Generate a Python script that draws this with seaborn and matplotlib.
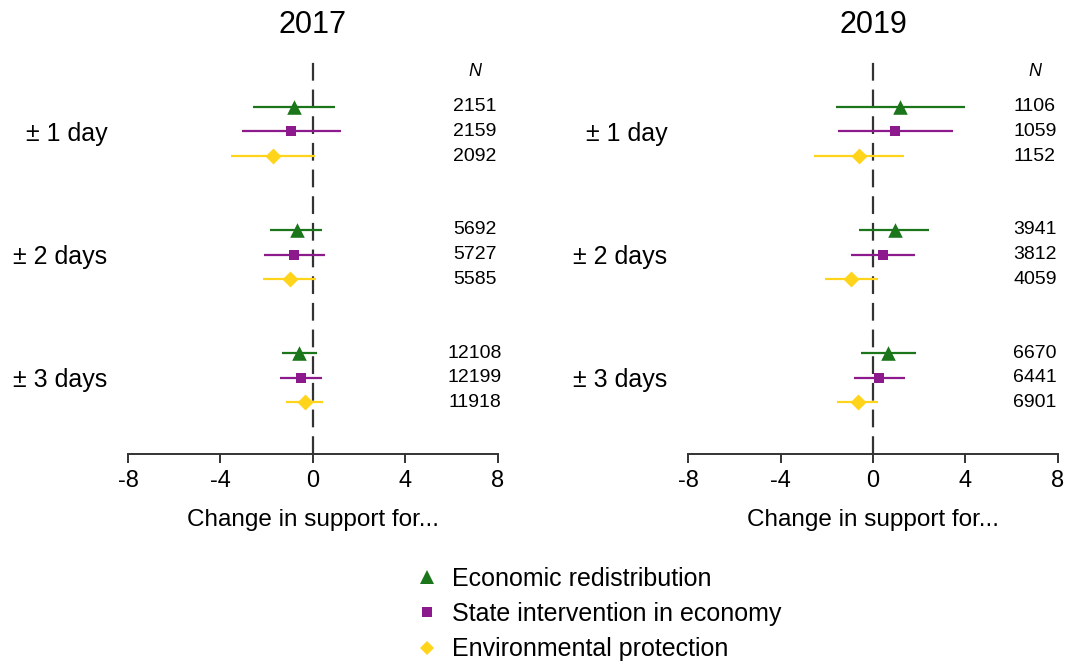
import numpy as np
import pandas as pd
import matplotlib
matplotlib.use("Agg")
import matplotlib.pyplot as plt
from matplotlib.lines import Line2D
import seaborn as sns

# Estimates (point, lower CI, upper CI) by window and outcome, per survey year
windows = ["± 1 day", "± 2 days", "± 3 days"]
outcomes = ["Economic redistribution", "State intervention in economy", "Environmental protection"]

est_2017 = [[-0.84, -0.94, -1.71], [-0.71, -0.81, -0.99], [-0.60, -0.53, -0.36]]
lo_2017 = [[-2.61, -3.08, -3.53], [-1.84, -2.12, -2.15], [-1.36, -1.42, -1.17]]
hi_2017 = [[0.96, 1.21, 0.09], [0.40, 0.50, 0.13], [0.16, 0.37, 0.43]]
n_2017 = [[2151, 2159, 2092], [5692, 5727, 5585], [12108, 12199, 11918]]

est_2019 = [[1.17, 0.97, -0.60], [0.94, 0.42, -0.96], [0.65, 0.27, -0.65]]
lo_2019 = [[-1.62, -1.51, -2.53], [-0.60, -0.96, -2.07], [-0.52, -0.80, -1.57]]
hi_2019 = [[3.99, 3.44, 1.33], [2.43, 1.81, 0.20], [1.86, 1.38, 0.23]]
n_2019 = [[1106, 1059, 1152], [3941, 3812, 4059], [6670, 6441, 6901]]

years = ["2017", "2019"]
x_ticks = [-8, -4, 0, 4, 8]

colors = {outcomes[0]: "#1b751b", outcomes[1]: "#8c1a8c", outcomes[2]: "#ffd41a"}
markers = {outcomes[0]: "^", outcomes[1]: "s", outcomes[2]: "D"}
sizes = {outcomes[0]: 110, outcomes[1]: 62, outcomes[2]: 66}
offsets = [-0.2, 0.0, 0.2]


def build_frame(est, lo, hi, n):
    rows = []
    for g, w in enumerate(windows):
        for k, o in enumerate(outcomes):
            rows.append(dict(window=w, outcome=o, y=g + offsets[k],
                             est=est[g][k], lo=lo[g][k], hi=hi[g][k], n=n[g][k]))
    return pd.DataFrame(rows)


frames = [build_frame(est_2017, lo_2017, hi_2017, n_2017),
          build_frame(est_2019, lo_2019, hi_2019, n_2019)]

sns.set_theme(style="white")
plt.rcParams["font.family"] = ["Liberation Sans", "DejaVu Sans"]
plt.rcParams["text.color"] = "black"
plt.rcParams["axes.labelcolor"] = "black"
plt.rcParams["xtick.color"] = "black"
plt.rcParams["ytick.color"] = "black"

fig = plt.figure(figsize=(10.69, 6.66), dpi=100)
ax_w, ax_h, ax_b = 0.3461, 0.599, 0.3183
axes = [fig.add_axes([0.1197, ax_b, ax_w, ax_h]),
        fig.add_axes([0.6436, ax_b, ax_w, ax_h])]

for ax, df, year in zip(axes, frames, years):
    ax.axvline(0, color="#333333", lw=1.6, ls=(0, (8, 4)), zorder=1)
    for o in outcomes:
        sub = df[df["outcome"] == o]
        ax.hlines(sub["y"], sub["lo"], sub["hi"], color=colors[o], lw=1.6, zorder=2)
        sns.scatterplot(data=sub, x="est", y="y", ax=ax, color=colors[o],
                        marker=markers[o], s=sizes[o], linewidth=0, zorder=3,
                        legend=False)
        for _, r in sub.iterrows():
            ax.text(7, r["y"], f"{r['n']}", ha="center", va="center", fontsize=14)
    ax.text(7, -0.49, "N", ha="center", va="center", fontsize=13, style="italic")

    ax.set_xlim(-8, 8)
    ax.set_ylim(2.62, -0.62)
    ax.set_xticks(x_ticks)
    ax.set_xticklabels([str(t) for t in x_ticks], fontsize=17)
    ax.set_yticks(range(len(windows)))
    ax.set_yticklabels(windows, fontsize=18)
    ax.tick_params(axis="y", length=0, pad=15)
    ax.tick_params(axis="x", length=6.5, width=1.4, color="#333333", pad=5,
                   bottom=True)
    for side in ["left", "right", "top"]:
        ax.spines[side].set_visible(False)
    ax.spines["bottom"].set_color("#333333")
    ax.spines["bottom"].set_linewidth(1.4)
    ax.set_xlabel("Change in support for...", fontsize=17.5, labelpad=12)
    ax.set_ylabel("")
    ax.set_title(year, fontsize=22, pad=16)

handles = [Line2D([], [], ls="none", marker=markers[o], color=colors[o],
                  markeredgewidth=0) for o in outcomes]
handles[0].set_markersize(10)
handles[1].set_markersize(7)
handles[2].set_markersize(7.5)
fig.legend(handles, outcomes, loc="center left", bbox_to_anchor=(0.3765, 0.078),
           frameon=False, fontsize=18, handlelength=1.0, handletextpad=0.5,
           labelspacing=0.45, borderpad=0)

fig.savefig("out.png", dpi=100)
